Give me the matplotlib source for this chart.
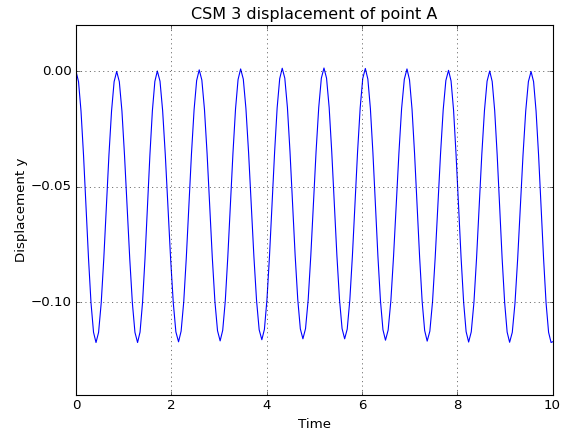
import numpy as np
import matplotlib as mpl
mpl.use("Agg")
from matplotlib import pyplot as plt

# values (time, displacement y of point A)
# one row per half swing: extremum first, then the way down / up
time = [
  0.000, 0.053, 0.105, 0.158, 0.210, 0.263, 0.315, 0.368,
  0.420, 0.474, 0.529, 0.583, 0.637, 0.691, 0.746, 0.800,
  0.854, 0.909, 0.964, 1.018, 1.073, 1.128, 1.183, 1.237,
  1.292, 1.344, 1.396, 1.448, 1.500, 1.551, 1.603, 1.655,
  1.707, 1.763, 1.818, 1.874, 1.930, 1.985, 2.041, 2.096,
  2.152, 2.206, 2.261, 2.315, 2.369, 2.423, 2.478, 2.532,
  2.586, 2.641, 2.696, 2.751, 2.806, 2.860, 2.915, 2.970,
  3.025, 3.079, 3.133, 3.186, 3.240, 3.294, 3.348, 3.401,
  3.455, 3.511, 3.566, 3.622, 3.678, 3.733, 3.789, 3.844,
  3.900, 3.954, 4.007, 4.061, 4.114, 4.168, 4.221, 4.275,
  4.328, 4.382, 4.437, 4.491, 4.545, 4.599, 4.654, 4.708,
  4.762, 4.817, 4.873, 4.928, 4.983, 5.038, 5.094, 5.149,
  5.204, 5.258, 5.313, 5.367, 5.421, 5.475, 5.530, 5.584,
  5.638, 5.692, 5.747, 5.801, 5.855, 5.909, 5.964, 6.018,
  6.072, 6.125, 6.178, 6.231, 6.284, 6.336, 6.389, 6.442,
  6.495, 6.551, 6.608, 6.664, 6.721, 6.777, 6.833, 6.890,
  6.946, 6.999, 7.052, 7.105, 7.158, 7.211, 7.264, 7.317,
  7.370, 7.426, 7.482, 7.538, 7.594, 7.650, 7.706, 7.762,
  7.818, 7.871, 7.924, 7.976, 8.029, 8.082, 8.135, 8.187,
  8.240, 8.295, 8.351, 8.406, 8.461, 8.516, 8.572, 8.627,
  8.682, 8.734, 8.787, 8.839, 8.891, 8.943, 8.996, 9.048,
  9.100, 9.156, 9.213, 9.269, 9.325, 9.381, 9.438, 9.494,
  9.550, 9.603, 9.655, 9.708, 9.760, 9.813, 9.865, 9.918,
  9.970, 10.000,
]
disp_y = [
  0.0000, -0.0045, -0.0172, -0.0363, -0.0587, -0.0811, -0.1002, -0.1129,
  -0.1173, -0.1129, -0.1002, -0.0811, -0.0587, -0.0363, -0.0172, -0.0045,
  -0.0001, -0.0045, -0.0172, -0.0363, -0.0587, -0.0811, -0.1002, -0.1129,
  -0.1173, -0.1128, -0.1001, -0.0810, -0.0586, -0.0362, -0.0171, -0.0044,
  0.0001, -0.0043, -0.0170, -0.0361, -0.0585, -0.0809, -0.1000, -0.1127,
  -0.1170, -0.1124, -0.0997, -0.0806, -0.0582, -0.0358, -0.0167, -0.0040,
  0.0006, -0.0038, -0.0165, -0.0356, -0.0580, -0.0804, -0.0995, -0.1122,
  -0.1166, -0.1120, -0.0993, -0.0802, -0.0578, -0.0354, -0.0163, -0.0036,
  0.0010, -0.0034, -0.0161, -0.0352, -0.0576, -0.0800, -0.0991, -0.1118,
  -0.1161, -0.1116, -0.0989, -0.0798, -0.0574, -0.0350, -0.0159, -0.0032,
  0.0013, -0.0030, -0.0157, -0.0348, -0.0572, -0.0796, -0.0987, -0.1114,
  -0.1157, -0.1113, -0.0987, -0.0796, -0.0572, -0.0348, -0.0157, -0.0030,
  0.0014, -0.0030, -0.0157, -0.0348, -0.0572, -0.0796, -0.0987, -0.1113,
  -0.1157, -0.1115, -0.0988, -0.0797, -0.0573, -0.0349, -0.0158, -0.0031,
  0.0012, -0.0034, -0.0161, -0.0352, -0.0576, -0.0800, -0.0991, -0.1118,
  -0.1163, -0.1119, -0.0992, -0.0801, -0.0577, -0.0353, -0.0162, -0.0035,
  0.0010, -0.0037, -0.0164, -0.0355, -0.0579, -0.0803, -0.0994, -0.1121,
  -0.1167, -0.1124, -0.0997, -0.0806, -0.0582, -0.0358, -0.0167, -0.0040,
  0.0004, -0.0042, -0.0169, -0.0360, -0.0584, -0.0808, -0.0999, -0.1126,
  -0.1171, -0.1127, -0.1000, -0.0809, -0.0585, -0.0361, -0.0170, -0.0043,
  0.0001, -0.0044, -0.0171, -0.0362, -0.0586, -0.0810, -0.1001, -0.1128,
  -0.1172, -0.1129, -0.1002, -0.0811, -0.0587, -0.0363, -0.0172, -0.0045,
  -0.0001, -0.0045, -0.0172, -0.0363, -0.0587, -0.0811, -0.1002, -0.1129,
  -0.1173, -0.1170,
]
xticks = [0, 2, 4, 6, 8, 10]
yticks = [-0.10, -0.05, 0.00]
ytick_labels = ["\u22120.10", "\u22120.05", "0.00"]

plt.style.use('classic')
mpl.rcParams['figure.facecolor'] = 'white'
mpl.rcParams['savefig.facecolor'] = 'white'

fig = plt.figure(figsize=(568 / 80, 434 / 80), dpi=80)
ax = fig.add_axes([76 / 568, 1 - 395 / 434, 476.5 / 568, 370 / 434])
ax.plot(time, disp_y, color='b', linewidth=1.0)
ax.set_xlim(0, 10)
ax.set_ylim(-0.14, 0.02)
ax.set_xticks(xticks)
ax.set_yticks(yticks)
ax.set_yticklabels(ytick_labels)
ax.grid(True)
ax.set_title("CSM 3 displacement of point A")
ax.set_xlabel("Time")
ax.set_ylabel("Displacement y", labelpad=2)

fig.savefig("out.png", dpi=80)
